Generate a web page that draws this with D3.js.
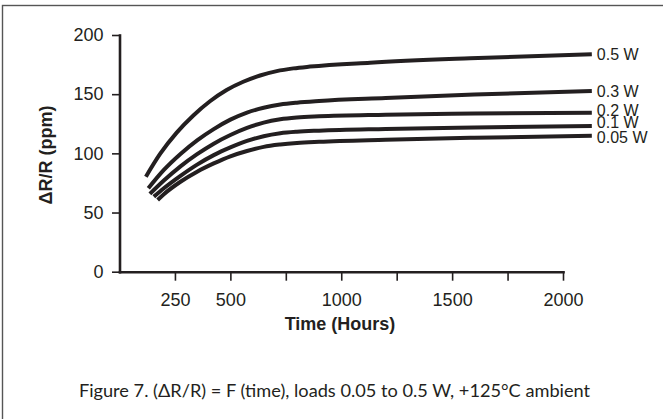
<!DOCTYPE html>
<html>
<head>
<meta charset="utf-8">
<script src="https://cdn.jsdelivr.net/npm/d3@7"></script>
<style>
  html, body { margin: 0; padding: 0; background: #fff; }
  svg { display: block; }
</style>
</head>
<body>
<div id="chart"></div>
<script>
// series: hours vs dR/R (ppm)
const loads = ['0.5 W', '0.3 W', '0.2 W', '0.1 W', '0.05 W'];
const hours05 = [119, 183, 258, 333, 408, 483, 558, 634, 709, 784, 859, 1130, 1581, 2130];
const ppm05 = [80.3, 99.5, 117.5, 132, 144, 153.5, 160.5, 165.8, 169.5, 171.8, 173.3, 176.6, 180.3, 183.7];
const hours03 = [130, 200, 275, 350, 425, 500, 575, 650, 725, 800, 900, 1200, 1600, 2130];
const ppm03 = [70.5, 86, 99.5, 111, 120.5, 128.5, 134.5, 138.5, 141.2, 142.8, 144.2, 146.7, 149.7, 152.7];
const hours02 = [137, 200, 275, 350, 425, 500, 575, 650, 725, 800, 900, 1200, 1600, 2130];
const ppm02 = [65.7, 77, 89, 99.3, 108.2, 115.5, 121.5, 126, 128.8, 130.3, 131.3, 132.6, 133.6, 134.4];
const hours01 = [155, 200, 275, 350, 425, 500, 575, 650, 725, 800, 900, 1200, 1600, 2130];
const ppm01 = [63.4, 70.5, 81, 90.5, 98.5, 105, 110.5, 114.5, 117, 118.3, 119.2, 120.6, 121.9, 123.1];
const hours005 = [172, 200, 275, 350, 425, 500, 575, 650, 725, 800, 900, 1200, 1600, 2130];
const ppm005 = [60.6, 65.5, 76, 84.5, 91.5, 97.5, 102, 105.5, 107.5, 108.8, 109.8, 111.5, 113.2, 114.8];

const xTicks = [250, 500, 750, 1000, 1250, 1500, 1750, 2000];
const xTickLabels = [250, 500, 1000, 1500, 2000];
const yTicks = [0, 50, 100, 150, 200];

const caption = 'Figure 7. (\u0394R/R) = F (time), loads 0.05 to 0.5 W, +125\u00b0C ambient';

// layout
const width = 663;
const height = 419;
const ink = '#231f20';
const sans = '"Liberation Sans", Arial, Helvetica, sans-serif';
const labelNudge = [0, 0, -2.5, -3.5, 1.5];

const series = [
  [hours05, ppm05], [hours03, ppm03], [hours02, ppm02], [hours01, ppm01], [hours005, ppm005],
].map(([h, v], i) => ({ name: loads[i], points: h.map((t, j) => [t, v[j]]) }));

const svg = d3.select('#chart').append('svg')
  .attr('width', width)
  .attr('height', height);

// outer frame (runs off the right and bottom edge)
svg.append('rect')
  .attr('x', 2.5).attr('y', 5.5)
  .attr('width', 700).attr('height', 500)
  .attr('fill', 'none')
  .attr('stroke', '#555')
  .attr('stroke-width', 1.4);

const x = d3.scaleLinear().domain([0, 2000]).range([119.5, 563]);
const y = d3.scaleLinear().domain([0, 200]).range([271.7, 35]);

// y axis
const yAxis = svg.append('g')
  .attr('transform', `translate(${x(0)},0)`)
  .call(d3.axisLeft(y).tickValues(yTicks).tickSize(7.5).tickPadding(8.5).tickSizeOuter(0));

// x axis
const xAxis = svg.append('g')
  .attr('transform', `translate(0,${y(0)})`)
  .call(d3.axisBottom(x).tickValues(xTicks).tickSize(9).tickPadding(13).tickSizeOuter(0)
    .tickFormat(d => (xTickLabels.includes(d) ? d : '')));

[xAxis, yAxis].forEach((g) => {
  g.select('.domain').attr('stroke', ink).attr('stroke-width', 2.6).attr('stroke-linecap', 'square');
  g.selectAll('.tick line').attr('stroke', ink).attr('stroke-width', 1.6);
  g.selectAll('.tick text')
    .attr('fill', ink)
    .style('font-family', sans)
    .style('font-size', '18px');
});

// axis titles
svg.append('text')
  .attr('x', 340).attr('y', 330)
  .attr('text-anchor', 'middle')
  .attr('fill', ink)
  .style('font-family', sans)
  .style('font-size', '18px')
  .style('font-weight', 'bold')
  .text('Time (Hours)');

svg.append('text')
  .attr('transform', 'translate(51.5,155) rotate(-90)')
  .attr('text-anchor', 'middle')
  .attr('fill', ink)
  .style('font-family', sans)
  .style('font-size', '18px')
  .style('font-weight', 'bold')
  .text('\u0394R/R (ppm)');

// curves
const line = d3.line()
  .x(d => x(d[0]))
  .y(d => y(d[1]))
  .curve(d3.curveMonotoneX);

svg.append('g').selectAll('path')
  .data(series)
  .join('path')
  .attr('d', d => line(d.points))
  .attr('fill', 'none')
  .attr('stroke', ink)
  .attr('stroke-width', 4);

// end labels
svg.append('g').selectAll('text')
  .data(series)
  .join('text')
  .attr('x', d => x(d.points[d.points.length - 1][0]) + 5)
  .attr('y', (d, i) => y(d.points[d.points.length - 1][1]) + labelNudge[i])
  .attr('dy', '0.35em')
  .attr('fill', ink)
  .style('font-family', sans)
  .style('font-size', '16px')
  .text(d => d.name);

// caption
svg.append('text')
  .attr('x', 334.5).attr('y', 396.7)
  .attr('text-anchor', 'middle')
  .attr('fill', ink)
  .style('font-family', 'Lato, "Open Sans", sans-serif')
  .style('font-size', '18.2px')
  .text(caption);
</script>
</body>
</html>
